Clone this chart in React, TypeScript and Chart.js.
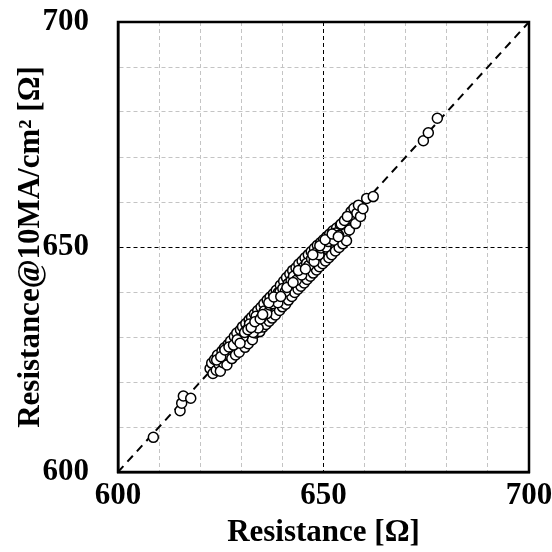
import React, { useEffect, useRef } from 'react';
import { Chart, registerables } from 'chart.js';

Chart.register(...registerables);

const axisMin = 600;
const axisMax = 700;
const gridStep = 10;
const labelledTicks = [600, 650, 700];
const diagonalEnds = [600, 700];

const resistance = [
  622.4, 622.8, 623.1, 623.5, 623.9, 624.2, 624.6, 624.9, 625.3, 625.6,
  625.9, 626.2, 626.5, 626.8, 627.1, 627.4, 627.7, 628.0, 628.3, 628.6,
  628.9, 629.2, 629.5, 629.8, 630.1, 630.3, 630.6, 630.9, 631.1, 631.4,
  631.7, 631.9, 632.2, 632.5, 632.7, 633.0, 633.2, 633.5, 633.8, 634.0,
  634.3, 634.5, 634.8, 635.0, 635.3, 635.5, 635.8, 636.0, 636.3, 636.5,
  636.8, 637.0, 637.3, 637.5, 637.8, 638.0, 638.3, 638.5, 638.8, 639.0,
  639.3, 639.5, 639.8, 640.0, 640.3, 640.5, 640.8, 641.0, 641.3, 641.5,
  641.8, 642.0, 642.3, 642.5, 642.8, 643.0, 643.3, 643.5, 643.8, 644.0,
  644.3, 644.5, 644.8, 645.0, 645.3, 645.5, 645.8, 646.0, 646.3, 646.5,
  646.8, 647.0, 647.3, 647.5, 647.8, 648.0, 648.3, 648.5, 648.8, 649.0,
  649.3, 649.5, 649.8, 650.0, 650.3, 650.5, 650.8, 651.0, 651.3, 651.5,
  651.8, 652.0, 652.3, 652.6, 652.9, 653.2, 653.5, 653.8, 654.1, 654.4,
  654.7, 655.0, 655.3, 655.6, 656.0, 656.3, 656.7, 657.1, 657.4, 657.8,
  658.1, 658.5, 659.0, 659.6, 660.5, 662.1,
  630.4, 631.2, 632.0, 632.9, 633.6, 634.1, 634.9, 635.6, 636.2, 636.9,
  637.6, 638.2, 638.9, 639.4, 640.1, 640.7, 641.4, 642.1, 642.7, 643.4,
  644.1, 644.7, 645.2, 645.9, 646.4, 647.1, 647.7, 648.2, 648.9, 649.4,
  650.1, 650.6, 651.2, 651.9, 652.5, 653.0, 653.7, 654.3, 655.1, 655.8,
  624.0, 625.0, 626.0, 627.0, 628.1, 629.0, 629.7, 630.8, 631.6, 632.4,
  633.3, 634.6, 635.2, 636.7, 637.9, 639.6, 641.1, 642.6, 643.9, 645.6,
  647.4, 649.1, 650.4, 652.1, 653.6,
  608.6, 615.1, 615.5, 615.9, 617.7, 674.3, 675.5, 677.7,
];

const resistanceAt10MA = [
  623.0, 624.2, 621.9, 625.0, 622.6, 626.0, 623.9, 622.4, 626.9, 624.3,
  627.6, 625.0, 623.8, 628.4, 625.9, 629.1, 625.2, 627.4, 630.1, 626.0,
  630.9, 628.0, 626.6, 631.6, 628.7, 632.3, 629.4, 627.7, 633.0, 630.0,
  628.5, 633.8, 631.1, 634.4, 629.4, 631.8, 635.1, 630.9, 632.6, 635.9,
  633.5, 631.2, 636.6, 633.8, 632.2, 637.4, 634.5, 632.8, 638.2, 635.3,
  633.5, 638.9, 636.0, 634.2, 639.6, 636.7, 634.9, 640.4, 637.5, 639.9,
  635.9, 641.5, 638.3, 636.7, 642.4, 639.2, 637.3, 643.2, 640.0, 638.2,
  644.0, 641.0, 639.0, 644.8, 641.6, 639.9, 645.4, 642.5, 640.6, 646.2,
  643.2, 641.3, 646.9, 643.9, 642.0, 647.6, 644.6, 642.8, 648.3, 645.3,
  643.5, 649.0, 646.0, 644.2, 649.7, 646.7, 644.9, 650.4, 647.4, 645.6,
  651.0, 648.0, 646.3, 651.6, 648.7, 646.9, 652.3, 649.4, 647.6, 652.9,
  650.1, 648.3, 653.6, 650.8, 649.1, 654.2, 651.4, 649.9, 654.9, 652.2,
  650.7, 655.7, 653.0, 651.4, 656.6, 653.8, 657.9, 656.0, 658.6, 655.2,
  657.5, 659.3, 656.8, 658.5, 660.8, 661.2,
  630.0, 631.5, 632.9, 631.0, 634.6, 632.0, 634.3, 635.8, 635.2, 637.1,
  637.4, 638.4, 637.6, 640.0, 640.8, 640.1, 641.9, 642.5, 643.5, 642.6,
  644.4, 643.8, 645.6, 646.4, 645.9, 647.4, 646.8, 648.7, 648.3, 649.8,
  650.3, 650.0, 651.2, 652.0, 651.5, 653.1, 652.6, 655.1, 655.9, 656.8,
  624.9, 625.6, 627.1, 627.8, 628.2, 629.4, 628.6, 631.0, 631.6, 632.1,
  633.4, 634.0, 635.0, 637.6, 638.9, 639.0, 641.0, 642.1, 644.8, 645.1,
  648.3, 650.3, 651.6, 652.9, 652.3,
  607.7, 613.6, 615.3, 616.9, 616.4, 673.6, 675.4, 678.6,
];

const xTitle = 'Resistance [Ω]';
const yTitle = 'Resistance@10MA/cm² [Ω]';

const FONT_FAMILY = "'Liberation Serif', 'Times New Roman', serif";

export default function App() {
  const canvasRef = useRef<HTMLCanvasElement>(null);

  useEffect(() => {
    const canvas = canvasRef.current;
    if (!canvas) return;
    const points = resistance.map((x, i) => ({ x, y: resistanceAt10MA[i] }));
    const diagonal = diagonalEnds.map((v) => ({ x: v, y: v }));

    const framePlugin = {
      id: 'frame',
      afterDraw(chart: any) {
        const { ctx, chartArea } = chart;
        const { left, top, right, bottom } = chartArea;
        ctx.save();
        ctx.strokeStyle = '#000';
        ctx.lineWidth = 2.5;
        ctx.setLineDash([]);
        ctx.strokeRect(left, top, right - left, bottom - top);
        ctx.restore();
      },
    };

    const gridColor = (ctx: any) =>
      ctx.tick && ctx.tick.value === 650 ? '#000000' : '#c4c4c4';
    const tickCb = (value: any) =>
      labelledTicks.includes(Number(value)) ? String(value) : '';

    const zeroPad = (scale: any) => {
      scale.paddingTop = 0;
      scale.paddingBottom = 0;
      scale.paddingLeft = 0;
      scale.paddingRight = 0;
    };

    const tickFont = { family: FONT_FAMILY, size: 31, weight: 'bold' as const, lineHeight: 1 };
    const titleFont = { family: FONT_FAMILY, size: 31, weight: 'bold' as const, lineHeight: 1 };

    const chart = new Chart(canvas, {
      type: 'scatter',
      data: {
        datasets: [
          {
            type: 'line',
            data: diagonal,
            borderColor: '#000',
            borderWidth: 2,
            borderDash: [8, 6],
            pointRadius: 0,
            fill: false,
            order: 2,
          } as any,
          {
            type: 'scatter',
            data: points,
            backgroundColor: '#ffffff',
            borderColor: '#000000',
            borderWidth: 1.5,
            pointRadius: 5,
            order: 1,
          },
        ],
      },
      options: {
        animation: false,
        responsive: false,
        maintainAspectRatio: false,
        layout: { padding: { top: 22, right: 23, left: 0, bottom: 0 } },
        plugins: {
          legend: { display: false },
          tooltip: { enabled: false },
        },
        scales: {
          x: {
            type: 'linear',
            min: axisMin,
            max: axisMax,
            afterFit(scale: any) {
              scale.height = 80;
              zeroPad(scale);
            },
            ticks: {
              stepSize: gridStep,
              autoSkip: false,
              maxRotation: 0,
              padding: 8,
              color: '#000',
              font: tickFont,
              callback: tickCb,
            },
            grid: { color: gridColor, lineWidth: 1, drawTicks: false },
            border: { display: true, color: '#000', width: 2.5, dash: [4, 3] },
            title: {
              display: true,
              text: xTitle,
              color: '#000',
              font: titleFont,
              padding: { top: 0, bottom: 4 },
            },
          },
          y: {
            type: 'linear',
            min: axisMin,
            max: axisMax,
            afterFit(scale: any) {
              scale.width = 118;
              zeroPad(scale);
            },
            ticks: {
              stepSize: gridStep,
              autoSkip: false,
              padding: 29,
              color: '#000',
              font: tickFont,
              callback: tickCb,
            },
            grid: { color: gridColor, lineWidth: 1, drawTicks: false },
            border: { display: true, color: '#000', width: 2.5, dash: [4, 3] },
            title: {
              display: true,
              text: yTitle,
              color: '#000',
              font: titleFont,
              padding: { top: 15, bottom: 0 },
            },
          },
        },
      },
      plugins: [framePlugin],
    });

    return () => chart.destroy();
  }, []);

  return (
    <div style={{ position: 'absolute', left: 0, top: 0, width: 552, height: 552, background: '#fff' }}>
      <canvas ref={canvasRef} width={552} height={552} style={{ display: 'block', width: 552, height: 552 }} />
    </div>
  );
}
